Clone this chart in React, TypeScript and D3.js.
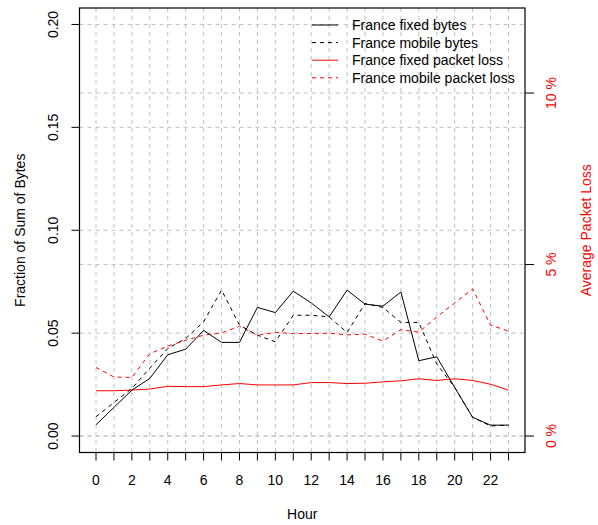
import React from 'react';
import * as d3 from 'd3';

// hourly values
const hours = [0, 1, 2, 3, 4, 5, 6, 7, 8, 9, 10, 11, 12, 13, 14, 15, 16, 17, 18, 19, 20, 21, 22, 23];
const hourLabels = [0, 2, 4, 6, 8, 10, 12, 14, 16, 18, 20, 22];

const fixedBytes = [0.0055, 0.0139, 0.0223, 0.028, 0.0395, 0.0422, 0.0513, 0.0455, 0.0455, 0.0625, 0.06, 0.0704,
  0.0647, 0.0579, 0.0709, 0.0641, 0.0631, 0.07, 0.0366, 0.0385, 0.0236, 0.0091, 0.0053, 0.0053];
const mobileBytes = [0.0094, 0.0163, 0.0231, 0.033, 0.0425, 0.0474, 0.0555, 0.0709, 0.0539, 0.049, 0.0458, 0.0587,
  0.0587, 0.0579, 0.0503, 0.0644, 0.0625, 0.0552, 0.0552, 0.035, 0.0236, 0.0091, 0.0049, 0.0053];
// packet loss in percent
const fixedLoss = [1.32, 1.32, 1.34, 1.37, 1.45, 1.44, 1.44, 1.49, 1.53, 1.49, 1.49, 1.49,
  1.56, 1.56, 1.53, 1.54, 1.58, 1.61, 1.67, 1.62, 1.67, 1.62, 1.51, 1.34];
const mobileLoss = [2.0, 1.72, 1.71, 2.4, 2.62, 2.79, 2.94, 3.01, 3.2, 2.94, 3.02, 2.99,
  2.99, 3.0, 2.95, 2.97, 2.77, 3.1, 3.03, 3.47, 3.88, 4.29, 3.23, 3.06];

const leftTicks = [0, 0.05, 0.1, 0.15, 0.2];
const rightTicks = [0, 5, 10];

const legendItems = [
  { label: 'France fixed bytes', color: 'black', dash: null },
  { label: 'France mobile bytes', color: 'black', dash: '4,4' },
  { label: 'France fixed packet loss', color: 'red', dash: null },
  { label: 'France mobile packet loss', color: 'red', dash: '4,4' },
];

const W = 598;
const H = 525;
const box = { left: 79.5, right: 525, top: 8, bottom: 452.5 };
const font = 'Liberation Sans, Arial, Helvetica, sans-serif';

export default function App() {
  // R style 4% padding on both axes
  const x = d3.scaleLinear().domain([-0.92, 23.92]).range([box.left, box.right]);
  const yL = d3.scaleLinear().domain([-0.008, 0.208]).range([box.bottom, box.top]);
  const yR = d3.scaleLinear().domain([-0.48, 12.48]).range([box.bottom, box.top]);

  const bytesLine = (vals: number[]) =>
    d3.line<number>().x((d, i) => x(hours[i])).y(d => yL(d))(vals) || '';
  const lossLine = (vals: number[]) =>
    d3.line<number>().x((d, i) => x(hours[i])).y(d => yR(d))(vals) || '';

  const gridY = [...leftTicks.map(t => yL(t)), ...rightTicks.map(t => yR(t))];
  const cy = (box.top + box.bottom) / 2;

  return (
    <svg width={W} height={H} style={{ position: 'absolute', left: 0, top: 0 }} fontFamily={font}>
      <rect width={W} height={H} fill="white" />

      {/* grid */}
      <g stroke="#c0c0c0" strokeDasharray="4,4" strokeWidth={1}>
        {hours.map(h => (
          <line key={'v' + h} x1={x(h)} x2={x(h)} y1={box.top} y2={box.bottom} />
        ))}
        {gridY.map((y, i) => (
          <line key={'h' + i} x1={box.left} x2={box.right} y1={y} y2={y} />
        ))}
      </g>

      {/* series */}
      <g fill="none" strokeWidth={1}>
        <path d={lossLine(fixedLoss)} stroke="red" />
        <path d={lossLine(mobileLoss)} stroke="red" strokeDasharray="4,4" />
        <path d={bytesLine(fixedBytes)} stroke="black" />
        <path d={bytesLine(mobileBytes)} stroke="black" strokeDasharray="4,4" />
      </g>

      <rect x={box.left} y={box.top} width={box.right - box.left} height={box.bottom - box.top}
        fill="none" stroke="black" strokeWidth={1.2} />

      {/* bottom axis */}
      <g stroke="black">
        {hours.map(h => (
          <line key={'bt' + h} x1={x(h)} x2={x(h)} y1={box.bottom} y2={box.bottom + 8} />
        ))}
      </g>
      {hourLabels.map(h => (
        <text key={'bl' + h} x={x(h)} y={485} fontSize={14} textAnchor="middle">{h}</text>
      ))}
      <text x={(box.left + box.right) / 2} y={519} fontSize={14} textAnchor="middle">Hour</text>

      {/* left axis */}
      {leftTicks.map(t => (
        <g key={'l' + t}>
          <line x1={box.left - 8} x2={box.left} y1={yL(t)} y2={yL(t)} stroke="black" />
          <text transform={`translate(53,${yL(t)}) rotate(-90)`} fontSize={14}
            textAnchor="middle" dominantBaseline="central">{t.toFixed(2)}</text>
        </g>
      ))}
      <text transform={`translate(20,${cy}) rotate(-90)`} fontSize={14}
        textAnchor="middle" dominantBaseline="central">Fraction of Sum of Bytes</text>

      {/* right axis */}
      {rightTicks.map(t => (
        <g key={'r' + t}>
          <line x1={box.right} x2={box.right + 9} y1={yR(t)} y2={yR(t)} stroke="black" />
          <text transform={`translate(551,${yR(t)}) rotate(-90)`} fontSize={14} fill="red"
            textAnchor="middle" dominantBaseline="central">{t} %</text>
        </g>
      ))}
      <text transform={`translate(586,${cy}) rotate(-90)`} fontSize={14} fill="red"
        textAnchor="middle" dominantBaseline="central">Average Packet Loss</text>

      {/* legend */}
      {legendItems.map((it, i) => {
        const ly = 25 + i * 17.6;
        return (
          <g key={it.label}>
            <line x1={312} x2={338} y1={ly} y2={ly} stroke={it.color}
              strokeDasharray={it.dash || undefined} />
            <text x={352} y={ly} fontSize={14} dominantBaseline="central">{it.label}</text>
          </g>
        );
      })}
    </svg>
  );
}
